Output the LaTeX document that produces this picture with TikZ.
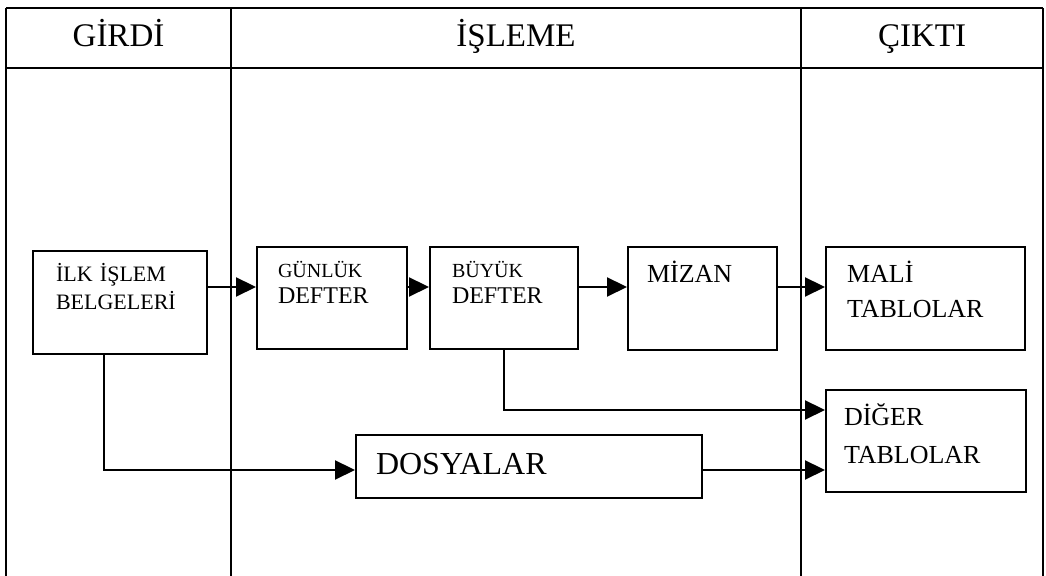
\documentclass[tikz,border=0pt]{standalone}
\usepackage{fontspec}
\setmainfont{Liberation Serif}
\usetikzlibrary{arrows.meta, positioning, calc}
\tikzset{
  kutu/.style={draw, line width=1pt, anchor=north west, inner xsep=10pt,
               inner ysep=0pt, align=left},
  baslik/.style={anchor=base, font=\fontsize{16.5}{18}\selectfont},
  ok/.style={-{Triangle[length=10pt, width=9.5pt]}, line width=1.1pt},
  cizgi/.style={line width=1.1pt},
}

\begin{document}
\begin{tikzpicture}[x=0.5pt, y=-0.5pt]
  \useasboundingbox (0,0) rectangle (1046,576);

  % table frame
  \draw[cizgi] (6,8) -- (1043,8);
  \draw[cizgi] (6,68) -- (1043,68);
  \foreach \x in {6,231,801,1043} {
    \draw[cizgi] (\x,8) -- (\x,576);
  }
  \node[baslik] (girdi) at (118.5,47) {GİRDİ};
  \node[baslik] (isleme) at (516,47) {İŞLEME};
  \node[baslik] (cikti) at (922,47) {ÇIKTI};

  % boxes
  \node[kutu, inner xsep=11.5pt, text width=64pt, text height=15.5pt, text depth=36pt,
        font=\fontsize{11}{14}\selectfont] (ilk) at (32,250) {İLK İŞLEM\\BELGELERİ};
  \node[kutu, inner xsep=10.5pt, text width=54pt, text height=15.5pt, text depth=35.5pt,
        font=\fontsize{12}{13}\selectfont] (gunluk) at (256,246)
        {{\fontsize{10}{12}\selectfont GÜNLÜK}\\DEFTER};
  \node[kutu, inner xsep=11pt, text width=52pt, text height=15.5pt, text depth=35.5pt,
        font=\fontsize{12}{13}\selectfont] (buyuk) at (429,246)
        {{\fontsize{10}{12}\selectfont BÜYÜK}\\DEFTER};
  \node[kutu, inner xsep=9.5pt, text width=55.5pt, text height=18pt, text depth=33.5pt,
        font=\fontsize{13}{16}\selectfont] (mizan) at (627,246) {MİZAN};
  \node[kutu, inner xsep=10.5pt, text width=78.5pt, text height=18pt, text depth=33.5pt,
        font=\fontsize{13}{17.5}\selectfont] (mali) at (825,246) {MALİ\\TABLOLAR};
  \node[kutu, inner xsep=9pt, text width=82pt, text height=18pt, text depth=33pt,
        font=\fontsize{13}{19}\selectfont] (diger) at (825,389) {DİĞER\\TABLOLAR};
  \node[kutu, inner xsep=10pt, text width=153pt, text height=20pt, text depth=11.5pt,
        font=\fontsize{16}{18}\selectfont] (dosya) at (355,434) {DOSYALAR};

  % arrow rows
  \coordinate (ust) at (0,287);
  \coordinate (orta) at (0,410);
  \coordinate (alt) at (0,470);
  \coordinate (kol) at (104,0);

  \draw[ok] (ilk.east |- ust) -- (gunluk.west |- ust);
  \draw[ok] (gunluk.east |- ust) -- (buyuk.west |- ust);
  \draw[ok] (buyuk.east |- ust) -- (mizan.west |- ust);
  \draw[ok] (mizan.east |- ust) -- (mali.west |- ust);
  \draw[ok] (buyuk.south) |- (diger.west |- orta);
  \draw[ok] (kol |- ilk.south) |- (dosya.west |- alt);
  \draw[ok] (dosya.east |- alt) -- (diger.west |- alt);
\end{tikzpicture}
\end{document}
